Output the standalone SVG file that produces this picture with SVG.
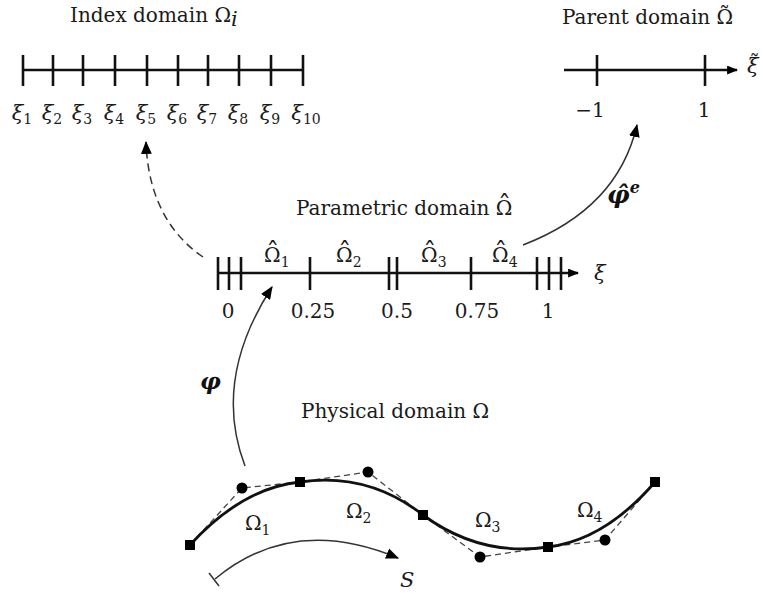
<svg xmlns="http://www.w3.org/2000/svg" width="763" height="594" viewBox="0 0 763 594">
<style>
.t{font-family:"DejaVu Serif","Liberation Serif",serif;font-size:20px;fill:#1a1a1a}
.m{font-family:"DejaVu Serif","Liberation Serif",serif;font-style:italic;font-size:21px;fill:#1a1a1a}
.n{font-family:"DejaVu Serif","Liberation Serif",serif;font-size:20px;fill:#1a1a1a;text-anchor:middle}
.sub{font-size:14px;font-style:normal}
.acc{font-size:26px;font-style:normal}
.ax{stroke:#111;stroke-width:2.6;fill:none}
.tk{stroke:#111;stroke-width:2.6}
.cn{stroke:#333;stroke-width:1.5;fill:none}
</style>
<defs>
<marker id="ah" viewBox="0 0 12 10" refX="11" refY="5" markerWidth="13" markerHeight="11" markerUnits="userSpaceOnUse" orient="auto"><path d="M0,0 L12,5 L0,10 z" fill="#000"/></marker>
<marker id="axh" viewBox="0 0 10 8" refX="9" refY="4" markerWidth="11" markerHeight="9" markerUnits="userSpaceOnUse" orient="auto"><path d="M0,0 L10,4 L0,8 z" fill="#000"/></marker>
</defs>

<g id="index-domain">
<text class="t" x="70" y="22">Index domain Ω<tspan class="m" font-size="15" dy="4">i</tspan></text>
<line class="ax" x1="23" y1="70" x2="303" y2="70"/>
<g class="tk">
<line x1="23" y1="55" x2="23" y2="86"/><line x1="53" y1="55" x2="53" y2="86"/><line x1="83" y1="55" x2="83" y2="86"/><line x1="115" y1="55" x2="115" y2="86"/><line x1="147" y1="55" x2="147" y2="86"/><line x1="178" y1="55" x2="178" y2="86"/><line x1="208" y1="55" x2="208" y2="86"/><line x1="239" y1="55" x2="239" y2="86"/><line x1="271" y1="55" x2="271" y2="86"/><line x1="303" y1="55" x2="303" y2="86"/>
</g>
<g class="m" text-anchor="middle">
<text x="22" y="120">ξ<tspan class="sub" dy="4">1</tspan></text>
<text x="52" y="120">ξ<tspan class="sub" dy="4">2</tspan></text>
<text x="82" y="120">ξ<tspan class="sub" dy="4">3</tspan></text>
<text x="114" y="120">ξ<tspan class="sub" dy="4">4</tspan></text>
<text x="146" y="120">ξ<tspan class="sub" dy="4">5</tspan></text>
<text x="177" y="120">ξ<tspan class="sub" dy="4">6</tspan></text>
<text x="207" y="120">ξ<tspan class="sub" dy="4">7</tspan></text>
<text x="238" y="120">ξ<tspan class="sub" dy="4">8</tspan></text>
<text x="270" y="120">ξ<tspan class="sub" dy="4">9</tspan></text>
<text x="306" y="120">ξ<tspan class="sub" dy="4">10</tspan></text>
</g>
</g>

<g id="parent-domain">
<text class="t" x="562" y="24">Parent domain Ω<tspan font-size="22" dx="-14" dy="-1">˜</tspan></text>
<line class="ax" x1="564" y1="70" x2="737" y2="70" marker-end="url(#axh)"/>
<line class="tk" x1="597" y1="55" x2="597" y2="86"/>
<line class="tk" x1="705" y1="55" x2="705" y2="86"/>
<text class="n" x="590" y="117">−1</text>
<text class="n" x="704" y="117">1</text>
<text class="m" x="747" y="73">ξ<tspan font-size="20" font-style="normal" dx="-9" dy="-4">˜</tspan></text>
</g>

<g id="parametric-domain">
<text class="t" x="296" y="215">Parametric domain Ω<tspan class="acc" dx="-14.4" dy="-1">ˆ</tspan></text>
<line class="ax" x1="217" y1="273" x2="578" y2="273" marker-end="url(#axh)"/>
<g class="tk">
<line x1="218" y1="257" x2="218" y2="290"/><line x1="229" y1="257" x2="229" y2="290"/><line x1="241" y1="257" x2="241" y2="290"/>
<line x1="310" y1="257" x2="310" y2="290"/>
<line x1="389" y1="257" x2="389" y2="290"/><line x1="397" y1="257" x2="397" y2="290"/>
<line x1="471" y1="257" x2="471" y2="290"/>
<line x1="537" y1="257" x2="537" y2="290"/><line x1="549" y1="257" x2="549" y2="290"/><line x1="561" y1="257" x2="561" y2="290"/>
</g>
<text class="t" x="264" y="262">Ω<tspan class="acc" dx="-14.4" dy="-1">ˆ</tspan><tspan class="sub" dx="1.6" dy="6">1</tspan></text>
<text class="t" x="336" y="262">Ω<tspan class="acc" dx="-14.4" dy="-1">ˆ</tspan><tspan class="sub" dx="1.6" dy="6">2</tspan></text>
<text class="t" x="421" y="262">Ω<tspan class="acc" dx="-14.4" dy="-1">ˆ</tspan><tspan class="sub" dx="1.6" dy="6">3</tspan></text>
<text class="t" x="492" y="262">Ω<tspan class="acc" dx="-14.4" dy="-1">ˆ</tspan><tspan class="sub" dx="1.6" dy="6">4</tspan></text>
<text class="n" x="228" y="318">0</text>
<text class="n" x="313" y="318">0.25</text>
<text class="n" x="397" y="318">0.5</text>
<text class="n" x="477" y="318">0.75</text>
<text class="n" x="548" y="318">1</text>
<text class="m" x="594" y="280">ξ</text>
</g>

<g id="physical-domain">
<text class="t" x="301" y="418">Physical domain Ω</text>
<path d="M190,545 L242,488 L300,482 L368,472 L423,515 L480,557 L548,547 L605,540 L655,482" fill="none" stroke="#444" stroke-width="1.3" stroke-dasharray="6 4"/>
<path d="M190,545 Q242,488 300,482 Q368,472 423,515 Q480,557 548,547 Q605,540 655,482" fill="none" stroke="#111" stroke-width="2.8"/>
<g fill="#000">
<rect x="185" y="540" width="10" height="10"/><rect x="295" y="477" width="10" height="10"/><rect x="418" y="510" width="10" height="10"/><rect x="543" y="542" width="10" height="10"/><rect x="650" y="477" width="10" height="10"/>
<circle cx="242" cy="488" r="5.5"/><circle cx="368" cy="472" r="5.5"/><circle cx="480" cy="557" r="5.5"/><circle cx="605" cy="540" r="5.5"/>
</g>
<text class="t" x="245" y="530">Ω<tspan class="sub" dy="5">1</tspan></text>
<text class="t" x="346" y="518">Ω<tspan class="sub" dy="5">2</tspan></text>
<text class="t" x="475" y="527">Ω<tspan class="sub" dy="5">3</tspan></text>
<text class="t" x="577" y="517">Ω<tspan class="sub" dy="5">4</tspan></text>
<text class="m" x="400" y="587" font-size="23">S</text>
</g>

<g id="connectors">
<path class="cn" d="M203,257 C172,236 148,200 146,142" stroke-dasharray="8 5" marker-end="url(#ah)"/>
<path class="cn" d="M523,245 C575,225 622,190 637,125" marker-end="url(#ah)"/>
<path class="cn" d="M245,466 Q212,380 272,287" marker-end="url(#ah)"/>
<path class="cn" d="M215,579 Q293,514 398,558" marker-end="url(#ah)"/>
<line class="cn" x1="209" y1="573" x2="219" y2="586"/>
<text x="200" y="389" font-family="DejaVu Serif,serif" font-style="italic" font-weight="bold" font-size="23" fill="#111">φ</text>
<text x="607" y="203" font-family="DejaVu Serif,serif" font-style="italic" font-weight="bold" font-size="25" fill="#111">φ̂<tspan font-size="16" dy="-10">e</tspan></text>
</g>
</svg>
